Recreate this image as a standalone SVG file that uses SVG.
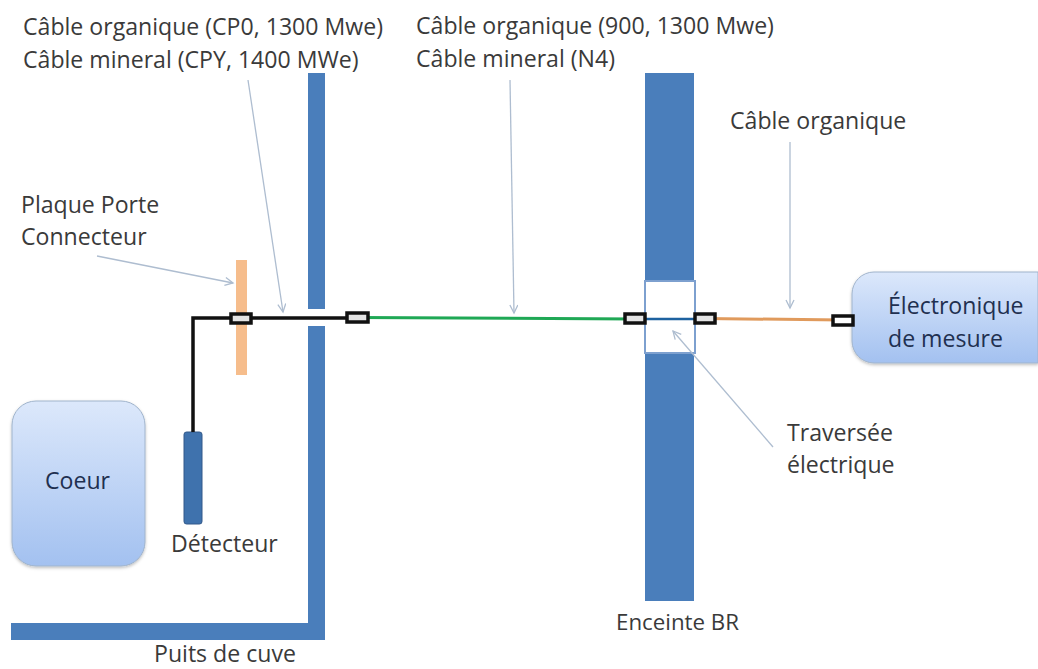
<svg xmlns="http://www.w3.org/2000/svg" width="1038" height="669" viewBox="0 0 1038 669">
<style>
text{font-family:"Open Sans","Noto Sans","Liberation Sans",sans-serif;font-size:23.1px;fill:#3a3a3a}
.w{fill:#4a7ebb}
.c{fill:#e4e4e4;stroke:#111;stroke-width:3.500}
.ln{fill:none;stroke-linecap:butt}
.ar{fill:none;stroke:#aebdd0;stroke-width:1.3}
#coeur text,#electronique text{fill:#1f3050}
</style>
<defs>
<linearGradient id="g" x1="0" y1="0" x2="0" y2="1"><stop offset="0" stop-color="#dce8fb"/><stop offset="1" stop-color="#a3c1f0"/></linearGradient>
<filter id="s" x="-10%" y="-10%" width="120%" height="120%"><feDropShadow dx="0" dy="1.500" stdDeviation="1.500" flood-color="#000" flood-opacity="0.25"/></filter>
<marker id="a" markerWidth="12" markerHeight="12" refX="9" refY="4.500" orient="auto" markerUnits="userSpaceOnUse"><path d="M1 0.500L9 4.500L1 8.500" fill="none" stroke="#aebdd0" stroke-width="1.300"/></marker>
</defs>
<rect width="1038" height="669" fill="#fff"/>
<g id="puits">
<rect class="w" x="308" y="73" width="17" height="236"/>
<rect class="w" x="308" y="326" width="17" height="314"/>
<rect class="w" x="11" y="623" width="314" height="17"/>
</g>
<g id="enceinte">
<rect class="w" x="645" y="73" width="49" height="528"/>
</g>
<g id="traversee">
<rect x="645" y="281" width="50" height="72" fill="#fff" stroke="#7da0cf" stroke-width="2"/>
</g>
<g id="plaque"><rect x="236" y="260" width="11" height="115" fill="#f6bd8c"/></g>
<g id="coeur">
<rect x="12" y="401" width="133" height="165" rx="24" fill="url(#g)" stroke="#a0b4cc" filter="url(#s)"/>
<text x="45" y="489">Coeur</text>
</g>
<g id="electronique">
<path d="M1038 272H874a22 22 0 0 0-22 22V341a22 22 0 0 0 22 22H1038Z" fill="url(#g)" stroke="#a0b4cc" filter="url(#s)"/>
<text x="888" y="314">Électronique</text>
<text x="888" y="347">de mesure</text>
</g>
<g id="detecteur">
<rect x="184" y="432" width="18" height="92" rx="2.500" fill="#3f72ad" stroke="#33598a"/>
<text x="171" y="552">Détecteur</text>
</g>
<g id="connectors">
<path class="ln" d="M193 432V318H358" stroke="#111" stroke-width="3.500"/>
<path class="ln" d="M358 317.500L635 319" stroke="#1fa855" stroke-width="3"/>
<path class="ln" d="M635 319H705" stroke="#1d62a0" stroke-width="2.500"/>
<path class="ln" d="M705 318.500L842 320" stroke="#e09a5c" stroke-width="3"/>
<rect class="c" x="231" y="314" width="20" height="9"/>
<rect class="c" x="347" y="313" width="21" height="9"/>
<rect class="c" x="625" y="314" width="20" height="9"/>
<rect class="c" x="695" y="314" width="20" height="9"/>
<rect class="c" x="833" y="316" width="20" height="9" style="fill:#fff"/>
<path class="ar" marker-end="url(#a)" d="M97 256L233 283"/>
<path class="ar" marker-end="url(#a)" d="M248 80L283 312"/>
<path class="ar" marker-end="url(#a)" d="M510 80L514 313"/>
<path class="ar" marker-end="url(#a)" d="M790 142L790 308"/>
<path class="ar" marker-end="url(#a)" d="M773 447L673 331"/>
</g>
<g id="labels">
<text x="23" y="35">Câble organique (CP0, 1300 Mwe)</text>
<text x="23" y="68">Câble mineral (CPY, 1400 MWe)</text>
<text x="416" y="34">Câble organique (900, 1300 Mwe)</text>
<text x="416" y="67">Câble mineral (N4)</text>
<text x="730" y="129">Câble organique</text>
<text x="21" y="213">Plaque Porte</text>
<text x="21" y="245">Connecteur</text>
<text x="787" y="441">Traversée</text>
<text x="787" y="473">électrique</text>
<text x="616" y="630" style="font-size:22.300px">Enceinte BR</text>
<text x="154" y="662">Puits de cuve</text>
</g>
</svg>
